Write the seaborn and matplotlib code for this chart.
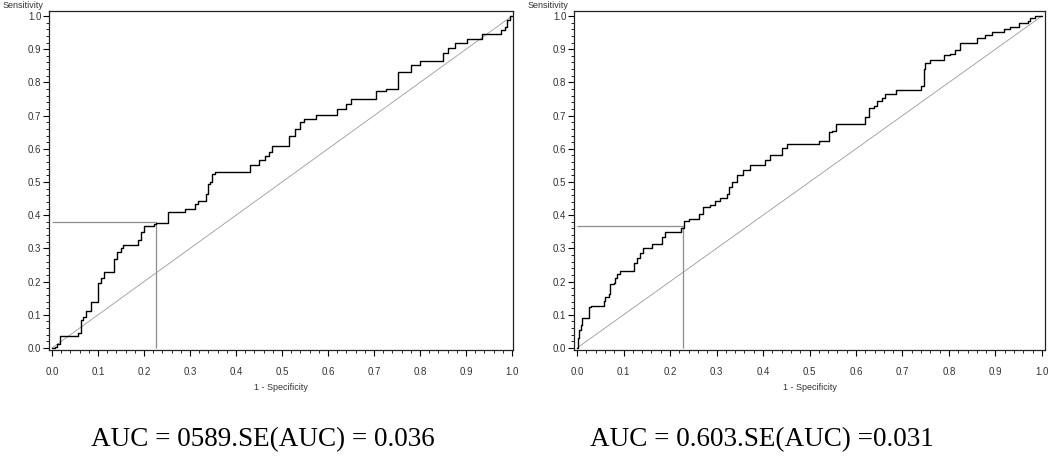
import numpy as np
import pandas as pd
import matplotlib
matplotlib.use("Agg")
import matplotlib.pyplot as plt
import seaborn as sns
from matplotlib.ticker import MultipleLocator

# ROC curve, left panel
left_fpr = [0, 0.006, 0.01, 0.017, 0.051, 0.056, 0.062, 0.068, 0.075, 0.084, 0.099, 0.1, 0.106, 0.112,
            0.128, 0.134, 0.142, 0.15, 0.155, 0.175, 0.186, 0.193, 0.2, 0.208, 0.222, 0.226, 0.248, 0.252,
            0.285, 0.29, 0.3, 0.31, 0.318, 0.329, 0.334, 0.339, 0.343, 0.348, 0.354, 0.427, 0.431, 0.445,
            0.449, 0.464, 0.471, 0.478, 0.515, 0.516, 0.529, 0.54, 0.547, 0.573, 0.574, 0.609, 0.62, 0.639,
            0.65, 0.693, 0.704, 0.726, 0.745, 0.752, 0.77, 0.781, 0.799, 0.847, 0.85, 0.861, 0.876, 0.898,
            0.901, 0.932, 0.934, 0.967, 0.975, 0.985, 0.988, 0.996, 1.0]
left_tpr = [0, 0.003, 0.013, 0.037, 0.037, 0.045, 0.083, 0.092, 0.112, 0.14, 0.14, 0.195, 0.21, 0.229,
            0.229, 0.268, 0.29, 0.3, 0.31, 0.31, 0.325, 0.35, 0.366, 0.366, 0.374, 0.377, 0.377, 0.409,
            0.409, 0.42, 0.42, 0.434, 0.444, 0.444, 0.464, 0.494, 0.5, 0.524, 0.531, 0.531, 0.552, 0.552,
            0.566, 0.577, 0.59, 0.608, 0.608, 0.64, 0.66, 0.68, 0.69, 0.69, 0.702, 0.702, 0.72, 0.736,
            0.749, 0.749, 0.774, 0.781, 0.781, 0.832, 0.832, 0.852, 0.864, 0.864, 0.889, 0.904, 0.919, 0.919,
            0.932, 0.932, 0.945, 0.945, 0.958, 0.968, 0.988, 1.0, 1.0]

# ROC curve, right panel
right_fpr = [0, 0.002, 0.005, 0.009, 0.011, 0.022, 0.025, 0.029, 0.05, 0.057, 0.061, 0.068, 0.072, 0.079,
             0.082, 0.087, 0.093, 0.118, 0.122, 0.129, 0.136, 0.142, 0.158, 0.161, 0.179, 0.183, 0.19, 0.219,
             0.224, 0.231, 0.24, 0.254, 0.262, 0.272, 0.287, 0.297, 0.308, 0.323, 0.326, 0.333, 0.344, 0.358,
             0.373, 0.398, 0.405, 0.416, 0.437, 0.441, 0.452, 0.459, 0.516, 0.52, 0.534, 0.541, 0.548, 0.556,
             0.616, 0.62, 0.627, 0.638, 0.645, 0.656, 0.663, 0.677, 0.685, 0.735, 0.74, 0.746, 0.749, 0.76,
             0.785, 0.789, 0.803, 0.814, 0.824, 0.857, 0.86, 0.878, 0.892, 0.918, 0.932, 0.95, 0.971, 0.975,
             0.986, 1.0]
right_tpr = [0, 0.03, 0.055, 0.07, 0.09, 0.09, 0.123, 0.126, 0.126, 0.141, 0.153, 0.163, 0.193, 0.196,
             0.211, 0.223, 0.231, 0.231, 0.256, 0.27, 0.286, 0.302, 0.302, 0.314, 0.314, 0.334, 0.349, 0.349,
             0.362, 0.382, 0.39, 0.39, 0.405, 0.425, 0.432, 0.444, 0.452, 0.464, 0.484, 0.5, 0.522, 0.537,
             0.552, 0.552, 0.567, 0.582, 0.582, 0.603, 0.613, 0.615, 0.615, 0.623, 0.623, 0.65, 0.653, 0.676,
             0.676, 0.695, 0.723, 0.73, 0.743, 0.753, 0.766, 0.766, 0.776, 0.776, 0.789, 0.839, 0.859, 0.866,
             0.866, 0.881, 0.886, 0.899, 0.918, 0.918, 0.933, 0.942, 0.952, 0.96, 0.967, 0.98, 0.985, 0.993,
             1.0, 1.0]

cut_x = [0.227, 0.229]
cut_y = [0.379, 0.367]
captions = ["AUC = 0589.SE(AUC) = 0.036", "AUC = 0.603.SE(AUC) =0.031"]
tick_vals = [0.0, 0.1, 0.2, 0.3, 0.4, 0.5, 0.6, 0.7, 0.8, 0.9, 1.0]

sns.set_style("ticks")
plt.rcParams['font.family'] = ['Liberation Sans', 'DejaVu Sans']

fig = plt.figure(figsize=(10.5, 4.59), dpi=100)
ax1 = fig.add_axes([49 / 1050, 1 - 350 / 459, 464 / 1050, 339 / 459])
ax2 = fig.add_axes([574 / 1050, 1 - 350 / 459, 471 / 1050, 339 / 459])

panels = [(ax1, left_fpr, left_tpr, (-0.0065, 1.002)),
          (ax2, right_fpr, right_tpr, (-0.0065, 1.0065))]

for i, (ax, fpr, tpr, xl) in enumerate(panels):
    df = pd.DataFrame({'fpr': fpr, 'tpr': tpr})
    sns.lineplot(x=[0, 1], y=[0, 1], ax=ax, color='#9a9a9a', linewidth=0.6)
    ax.hlines(cut_y[i], 0, cut_x[i], color='#8c8c8c', linewidth=0.9)
    ax.vlines(cut_x[i], 0, cut_y[i], color='#8c8c8c', linewidth=0.9)
    sns.lineplot(data=df, x='fpr', y='tpr', ax=ax, color='black', linewidth=1.0,
                 sort=False, estimator=None, drawstyle='steps-post')
    ax.set_xlim(*xl)
    ax.set_ylim(-0.006, 1.015)
    ax.set_xticks(tick_vals)
    ax.set_yticks(tick_vals)
    ax.set_xticklabels([f"{v:.1f}" for v in tick_vals])
    ax.set_yticklabels([f"{v:.1f}" for v in tick_vals])
    ax.xaxis.set_minor_locator(MultipleLocator(0.02))
    ax.yaxis.set_minor_locator(MultipleLocator(0.02))
    ax.tick_params(axis='both', which='major', length=4, width=0.8, labelsize=7,
                   labelcolor='#333333', color='black')
    ax.tick_params(axis='x', which='major', pad=8)
    ax.tick_params(axis='y', which='major', pad=1.5)
    ax.tick_params(axis='both', which='minor', length=2, width=0.6, color='black')
    for s in ax.spines.values():
        s.set_visible(True)
        s.set_linewidth(0.9)
        s.set_color('#222222')
    ax.set_xlabel('')
    ax.set_ylabel('')
    pos = ax.get_position()
    fig.text((pos.x0 + pos.x1) / 2, 1 - 388 / 459, '1 - Specificity', ha='center', va='center',
             fontsize=6.5, color='#333333')
    fig.text(pos.x0 - 46 / 1050, 1 - 6 / 459, 'Sensitivity', ha='left', va='center',
             fontsize=6.5, color='#333333')

fig.text(263 / 1050, 1 - 440 / 459, captions[0], ha='center', va='center',
         fontsize=19.5, family=['Liberation Serif', 'DejaVu Serif'], color='black')
fig.text(762 / 1050, 1 - 440 / 459, captions[1], ha='center', va='center',
         fontsize=19.5, family=['Liberation Serif', 'DejaVu Serif'], color='black')

fig.savefig('out.png', dpi=100, facecolor='white')
